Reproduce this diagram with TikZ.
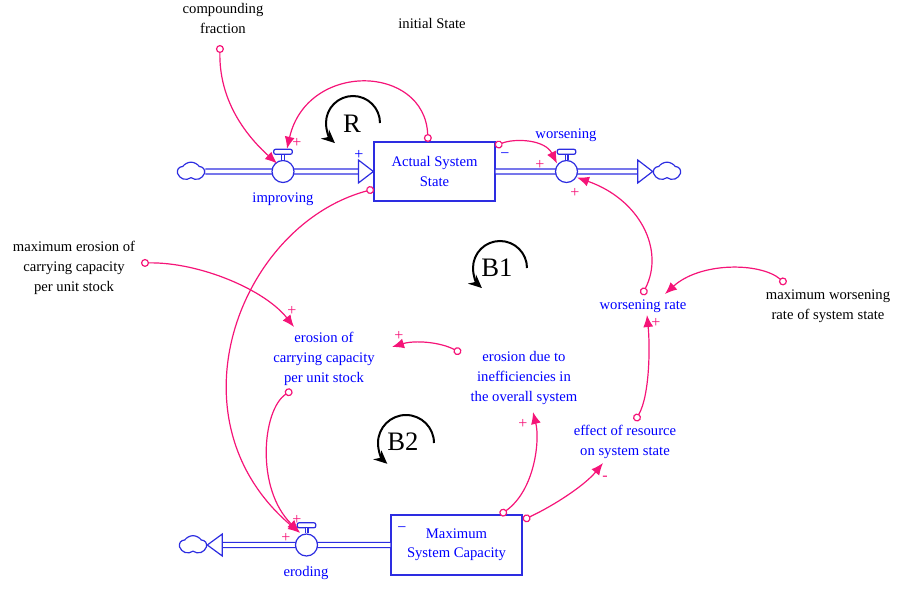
\documentclass[tikz,border=0pt]{standalone}
\usepackage{fontspec}
\setmainfont{Liberation Serif}
\usetikzlibrary{calc,arrows.meta,shapes.symbols}
\definecolor{lnk}{RGB}{245,20,120}
\definecolor{varblue}{RGB}{0,0,255}
\definecolor{stk}{RGB}{45,45,225}
\tikzset{
  var/.style={font=\fontsize{11}{15}\selectfont, align=center, inner sep=1pt},
  bluevar/.style={var, text=varblue},
  stockbox/.style={draw=stk, line width=0.9pt, text=varblue, align=center, font=\fontsize{11}{14.5}\selectfont},
  pipe/.style={draw=stk, line width=1pt, double=white, double distance=2.8pt},
  stem/.style={draw=stk, line width=0.8pt, double=white, double distance=1.4pt},
  valve/.style={circle, draw=stk, line width=0.9pt, fill=white, minimum size=16.5pt, inner sep=0pt},
  handle/.style={draw=stk, line width=0.9pt, fill=white, rounded corners=1.5pt, minimum width=14pt, minimum height=3.8pt, inner sep=0pt},
  sink/.style={cloud, cloud puffs=5, cloud puff arc=110, aspect=1.5, draw=stk, line width=0.9pt, minimum width=20pt, minimum height=14pt, inner sep=0pt},
  flowhead/.style={draw=stk, line width=0.9pt, fill=white},
  link/.style={draw=lnk, line width=0.9pt, {Circle[open,fill=white,length=6pt]}-{Latex[length=9pt,width=7.5pt]}},
  polarity/.style={font=\fontsize{12}{12}\selectfont, inner sep=0pt},
  loopsign/.style={font=\fontsize{20}{20}\selectfont, inner sep=0pt},
  looparrow/.style={draw=black, line width=1.5pt, -{Stealth[length=10pt,width=9pt]}}
}
\begin{document}
\begin{tikzpicture}[x=0.75pt, y=-0.75pt]
\useasboundingbox (0,0) rectangle (904,592);
% stocks, valves and clouds
\node[stockbox, minimum width=90.75pt, minimum height=44.25pt] (stockA) at (434.5,171.5) {Actual System\\State};
\node[stockbox, minimum width=98.25pt, minimum height=45pt] (stockB) at (456.5,545) {Maximum\\System Capacity};
\node[sink] (cloudA) at (191,171.5) {};
\node[sink] (cloudB) at (667,171.5) {};
\node[sink] (cloudC) at (193,545) {};
\draw[pipe] (cloudA.east) -- ($(stockA.west)+(-15,0)$);
\draw[pipe] (stockA.east) -- ($(cloudB.west)+(-15,0)$);
\draw[pipe] (stockB.west) -- ($(cloudC.east)+(15,0)$);
\draw[flowhead] (stockA.west) -- ++(-15,-11.5) -- ++(0,23) -- cycle;
\draw[flowhead] (cloudB.west) -- ++(-15,-11.5) -- ++(0,23) -- cycle;
\draw[flowhead] (cloudC.east) -- ++(15,-11) -- ++(0,22) -- cycle;
\node[valve] (valveI) at (283,171.5) {};
\node[valve] (valveW) at (566.5,171.5) {};
\node[valve] (valveE) at (306.5,545) {};
\foreach \v in {valveI,valveW,valveE}{
  \node[handle, anchor=south] (\v-top) at ($(\v.north)+(0,-5)$) {};
  \draw[stem] (\v.north) -- (\v-top.south);
}
\node[bluevar] (lblI) at (283,199) {improving};
\node[bluevar] (lblW) at (566,135) {worsening};
\node[bluevar] (lblE) at (306,573) {eroding};
% auxiliaries and constants
\node[var] (cfrac) at (223,18) {compounding\\fraction};
\node[var] (initst) at (432,23) {initial State};
\node[var] (maxero) at (74,268) {maximum erosion of\\carrying capacity\\per unit stock};
\node[bluevar] (erocap) at (324,359) {erosion of\\carrying capacity\\per unit stock};
\node[bluevar] (eroineff) at (524,378) {erosion due to\\inefficiencies in\\the overall system};
\node[bluevar] (wrate) at (643,306) {worsening rate};
\node[var] (maxwrate) at (828,306) {maximum worsening\\rate of system state};
\node[bluevar] (effres) at (625,442) {effect of resource\\on system state};
% causal links
\draw[link] ($(cfrac)+(-3,27)$) .. controls +(-1,55) and +(-32,-29) .. ($(valveI)+(-6,-8)$);
\draw[link] ($(stockA)+(-6.5,-29.5)$) .. controls +(-3,-78) and +(20,-88) .. ($(valveI-top)+(4,-3)$);
\draw[link] ($(stockA)+(60.5,-25.5)$) .. controls +(20,-8) and +(-12,-24) .. ($(valveW)+(-9.5,-8)$);
\draw[link] ($(stockA)+(-60.5,17.5)$) .. controls +(-134,36) and +(-135,-114) .. ($(valveE)+(-6.5,-12)$);
\draw[link] ($(maxero)+(67,-5)$) .. controls +(59,-1) and +(-29,-37) .. ($(erocap)+(-30,-32)$);
\draw[link] ($(eroineff)+(-63,-25)$) .. controls +(-21,-11) and +(23,-7) .. ($(erocap)+(68,-12)$);
\draw[link] ($(erocap)+(-32,31)$) .. controls +(-30,20) and +(-44,-43) .. ($(valveE)+(-7,-13)$);
\draw[link] ($(stockB)+(43.5,-30)$) .. controls +(35,-25) and +(7,28) .. ($(eroineff)+(9,34)$);
\draw[link] ($(stockB)+(66.5,-25)$) .. controls +(32,-15) and +(-18,22) .. ($(effres)+(-22,21)$);
\draw[link] ($(effres)+(10,-21)$) .. controls +(15,-26) and +(3,30) .. ($(wrate)+(4,9)$);
\draw[link] ($(wrate)+(-1,-11)$) .. controls +(23,-45) and +(63,22) .. ($(valveW)+(10.5,6)$);
\draw[link] ($(maxwrate)+(-42,-22)$) .. controls +(-26,-22) and +(35,-32) .. ($(wrate)+(22,-12)$);
% polarities
\foreach \x/\y/\s [count=\i] in {297/143/+, 540/165/+, 575/193/+, 292/311/+, 399/336/+, 523/424/+, 656/323/+, 286/538/+, 297/520/+, 605/478/-}
  \node[polarity, text=lnk] (pol\i) at (\x,\y) {\s};
\node[polarity, text=varblue] (polA) at (359,155) {+};
\node[polarity, text=varblue] (polB) at (505,156) {−};
\node[polarity, text=varblue] (polC) at (402,530) {−};
% loops
\node[loopsign] (loopR) at (352,124) {R};
\node[loopsign] (loopBa) at (497,268) {B1};
\node[loopsign] (loopBb) at (403,442) {B2};
\draw[looparrow] (380,123) arc[start angle=0, end angle=-228, radius=27];
\draw[looparrow] (527,268) arc[start angle=0, end angle=-228, radius=27];
\draw[looparrow] (434,443) arc[start angle=0, end angle=-228, radius=28];
\end{tikzpicture}
\end{document}
